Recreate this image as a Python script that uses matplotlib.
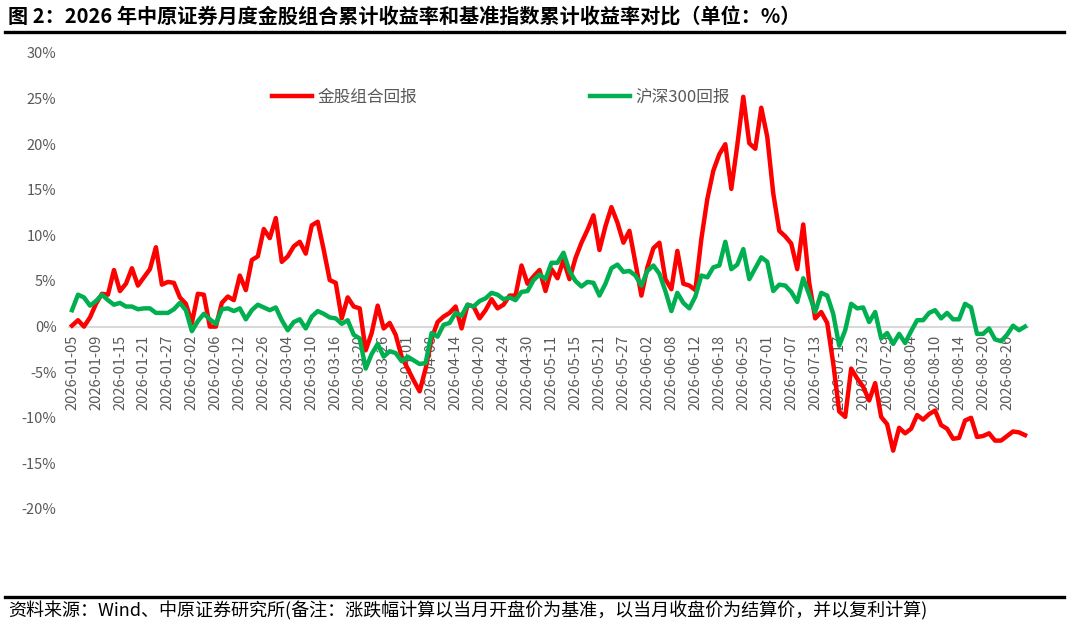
#!/bin/env python3
'''金股组合与沪深300累计收益率对比图。'''

import matplotlib
matplotlib.use('Agg')
import matplotlib.pyplot as plt
import numpy as np
import pandas as pd

plt.rcParams['font.family'] = ['Noto Sans CJK SC', 'DejaVu Sans']

# 交易日 (剔除节假日)
feriados = ['2026-02-16', '2026-02-17', '2026-02-18', '2026-02-19',
            '2026-02-20', '2026-02-23', '2026-04-06', '2026-05-01',
            '2026-05-04', '2026-05-05', '2026-06-19']
fechas = pd.bdate_range('2026-01-05', '2026-08-31', freq='C', holidays=feriados)

# 累计收益率 (%)
jingu = [0.1, 0.7, 0.0, 1.0, 2.5, 3.6, 3.5, 6.2, 3.9, 4.7,
         6.4, 4.5, 5.4, 6.3, 8.7, 4.6, 4.9, 4.8, 3.2, 2.5,
         0.4, 3.6, 3.5, 0.0, 0.0, 2.6, 3.3, 2.9, 5.6, 4.0,
         7.3, 7.7, 10.7, 9.7, 11.9, 7.1, 7.7, 8.8, 9.3, 8.0,
         11.1, 11.5, 8.4, 5.1, 4.8, 0.9, 3.2, 2.2, 2.0, -2.6,
         -0.7, 2.3, -0.2, 0.4, -0.9, -3.3, -4.6, -5.9, -7.1, -4.6,
         -1.3, 0.5, 1.1, 1.5, 2.2, -0.2, 2.4, 2.2, 0.9, 1.8,
         3.0, 2.0, 2.4, 3.4, 3.4, 6.7, 4.7, 5.5, 6.2, 3.9,
         6.3, 5.3, 7.3, 5.2, 7.5, 9.2, 10.6, 12.2, 8.4, 11.0,
         13.1, 11.4, 9.2, 10.5, 7.0, 3.4, 6.5, 8.6, 9.2, 5.2,
         4.1, 8.3, 4.7, 4.5, 4.0, 9.6, 14.0, 17.1, 18.9, 20.0,
         15.1, 19.9, 25.2, 20.1, 19.5, 24.0, 20.8, 14.6, 10.5, 9.9,
         9.1, 6.3, 11.2, 4.8, 0.9, 1.6, 0.4, -4.0, -9.3, -9.9,
         -4.6, -5.7, -6.6, -8.1, -6.2, -9.9, -10.7, -13.6, -11.1, -11.7,
         -11.2, -9.7, -10.2, -9.6, -9.2, -10.8, -11.2, -12.3, -12.2, -10.3,
         -10.0, -12.1, -12.0, -11.7, -12.5, -12.5, -12.0, -11.5, -11.6, -11.9]
hs300 = [1.8, 3.5, 3.2, 2.3, 2.8, 3.5, 2.9, 2.4, 2.6, 2.2,
         2.2, 1.9, 2.0, 2.0, 1.5, 1.5, 1.5, 1.9, 2.6, 1.8,
         -0.5, 0.6, 1.4, 0.8, 0.3, 1.9, 2.0, 1.7, 2.0, 0.8,
         1.8, 2.4, 2.1, 1.8, 2.1, 0.7, -0.4, 0.5, 0.8, -0.2,
         1.1, 1.7, 1.4, 1.0, 0.9, 0.3, 0.7, -0.9, -1.3, -4.6,
         -3.0, -1.9, -3.3, -2.7, -2.9, -3.8, -3.3, -3.7, -4.1, -4.0,
         -0.7, -1.1, 0.2, 0.4, 1.5, 1.2, 2.4, 2.2, 2.8, 3.1,
         3.7, 3.5, 3.0, 3.2, 2.9, 3.8, 3.9, 5.1, 5.7, 5.2,
         7.0, 7.0, 8.1, 6.1, 5.0, 4.4, 4.9, 4.8, 3.4, 4.7,
         6.4, 6.8, 6.0, 6.1, 5.6, 4.5, 6.1, 6.7, 5.8, 3.9,
         1.7, 3.7, 2.6, 2.0, 3.3, 5.6, 5.4, 6.5, 6.7, 9.3,
         6.3, 6.8, 8.5, 5.2, 6.4, 7.6, 7.1, 3.9, 4.6, 4.5,
         3.8, 2.7, 5.3, 3.5, 1.6, 3.7, 3.4, 1.4, -2.1, -0.4,
         2.5, 2.0, 2.1, 0.5, 1.6, -1.3, -0.7, -1.9, -0.8, -1.8,
         -0.5, 0.7, 0.7, 1.5, 1.8, 0.9, 1.5, 0.8, 0.8, 2.5,
         2.1, -0.8, -0.8, -0.2, -1.4, -1.6, -0.9, 0.1, -0.4, 0.0]
yticks = [-20, -15, -10, -5, 0, 5, 10, 15, 20, 25, 30]

n = min(len(fechas), len(jingu))
x = np.arange(n)
etiquetas = [d.strftime('%Y-%m-%d') for d in fechas[:n]]

gris = '#595959'
fig = plt.figure(figsize=(10.69, 6.30), dpi=100)
ax = fig.add_axes([69 / 1069, 1 - 509 / 630, 959 / 1069, 456 / 630])

ax.plot(x, jingu[:n], color='#FF0000', lw=3.2, label='金股组合回报',
        solid_joinstyle='round')
ax.plot(x, hs300[:n], color='#00B050', lw=3.2, label='沪深300回报',
        solid_joinstyle='round')

ax.set_xlim(-0.5, n - 0.5)
ax.set_ylim(-20, 30)
ax.set_yticks(yticks)
ax.set_yticklabels([f'{v}%' for v in yticks])
ax.set_xticks(x[::4])
ax.set_xticklabels(etiquetas[::4])
ax.tick_params(length=0, labelcolor=gris, labelsize=10.5)
ax.tick_params(axis='y', pad=9)
ax.tick_params(axis='x', pad=6, labelrotation=90)

for s in ['top', 'right', 'left']:
    ax.spines[s].set_visible(False)
ax.spines['bottom'].set_position(('data', 0))
ax.spines['bottom'].set_color('#d9d9d9')
ax.spines['bottom'].set_linewidth(1.5)
ax.spines['bottom'].set_zorder(1)

fig.legend(loc='center left', bbox_to_anchor=(272 / 1069, 1 - 97 / 630),
           ncol=2, frameon=False, fontsize=12, labelcolor=gris,
           handlelength=2.4, handletextpad=0.3, columnspacing=10.4,
           borderpad=0, borderaxespad=0)

# 标题与来源
fig.text(8 / 1069, 1 - 17 / 630,
         '图 2：2026 年中原证券月度金股组合累计收益率和基准指数累计收益率对比（单位：%）',
         fontsize=14.5, fontweight='bold', va='center', ha='left')
fig.add_artist(plt.Line2D([5 / 1069, 1064 / 1069], [1 - 32 / 630, 1 - 32 / 630],
                          color='black', lw=2.4))
fig.add_artist(plt.Line2D([5 / 1069, 1064 / 1069], [1 - 597 / 630, 1 - 597 / 630],
                          color='black', lw=2.4))
fig.text(8 / 1069, 1 - 611 / 630,
         '资料来源：Wind、中原证券研究所(备注：涨跌幅计算以当月开盘价为基准，以当月收盘价为结算价，并以复利计算)',
         fontsize=13, va='center', ha='left')

fig.savefig('out.png', dpi=100)
